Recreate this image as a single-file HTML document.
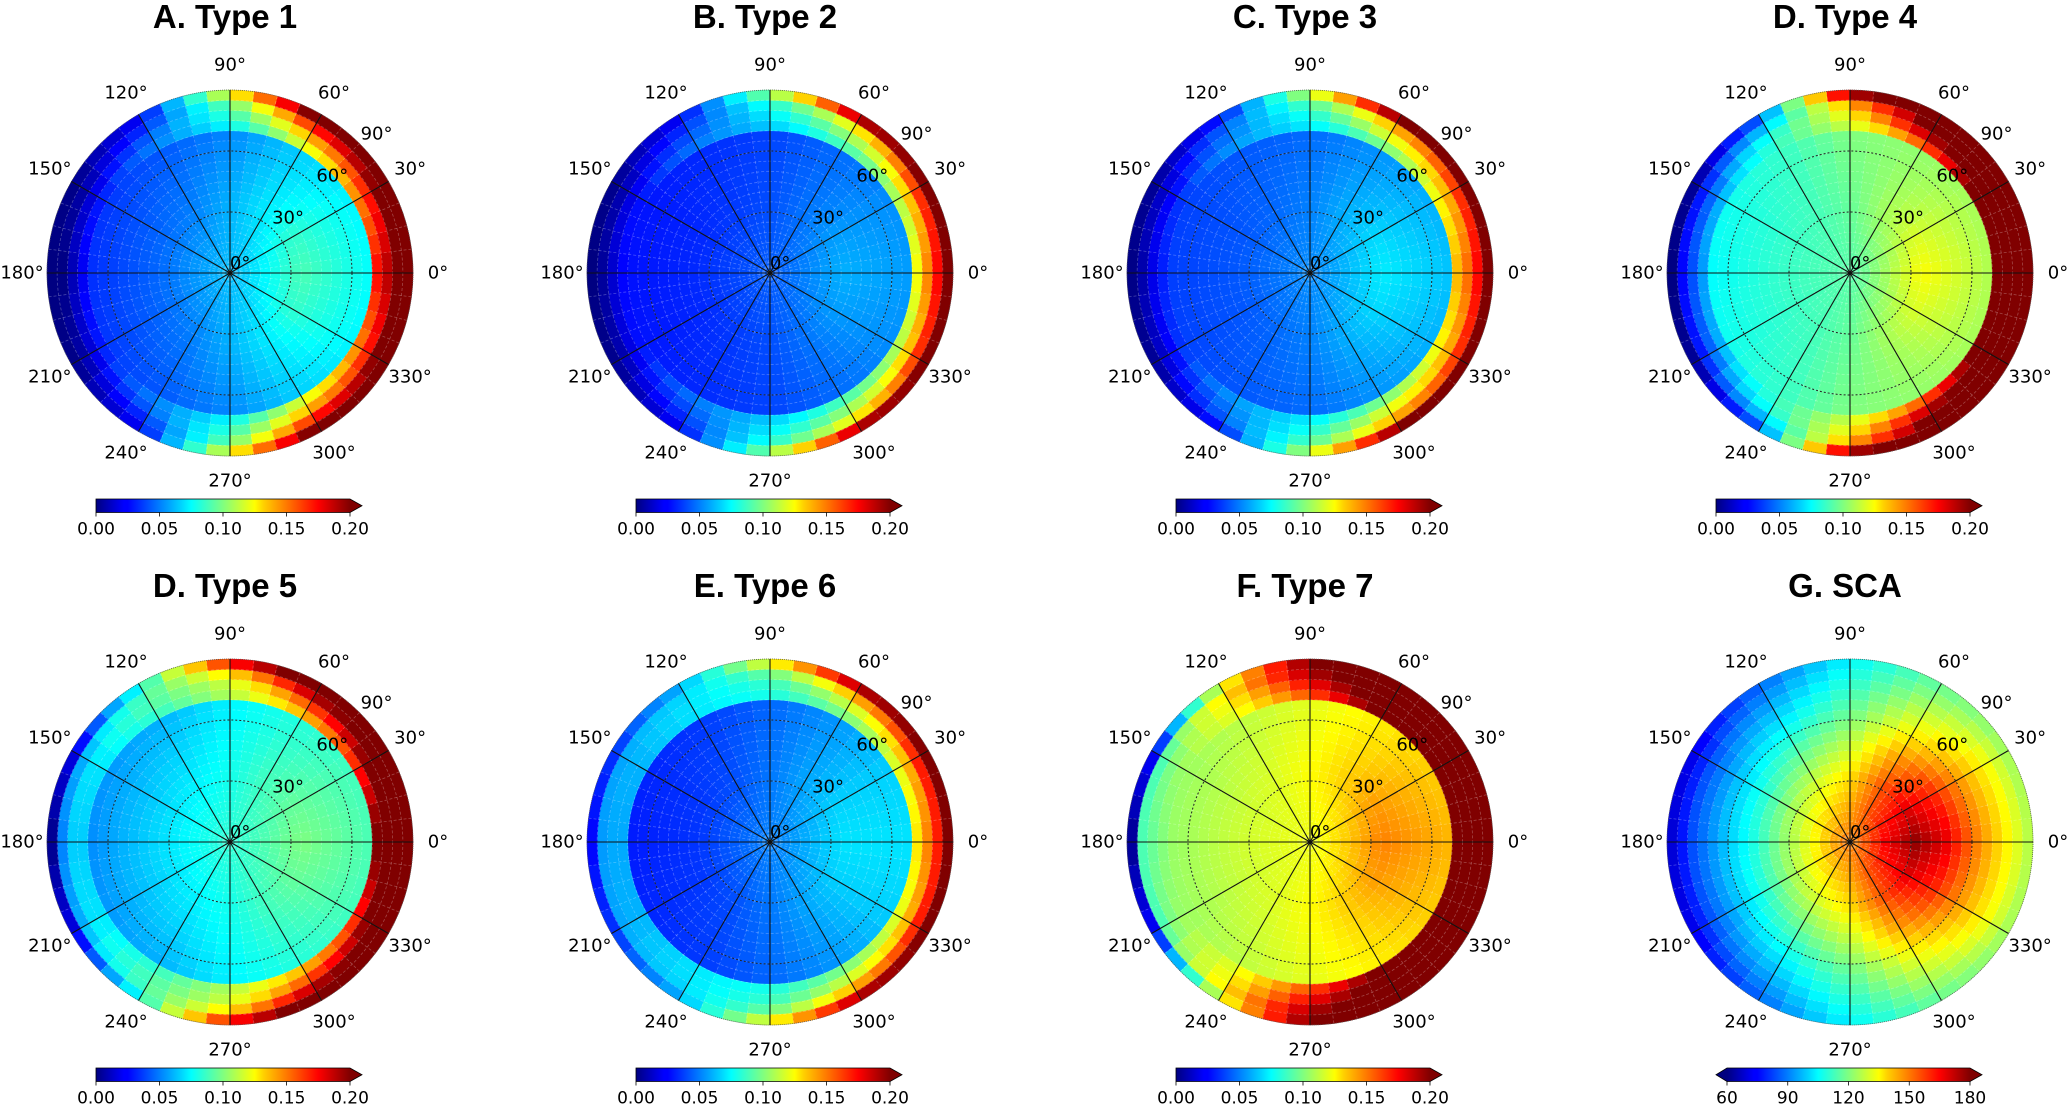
<!DOCTYPE html>
<html><head><meta charset="utf-8">
<style>
html,body{margin:0;padding:0;background:#fff;}
svg{display:block;}
.t{font-family:"Liberation Sans",sans-serif;font-weight:bold;font-size:33px;fill:#000;text-anchor:middle;}
.l{font-family:"DejaVu Sans","Liberation Sans",sans-serif;font-size:18px;fill:#000;text-anchor:middle;dominant-baseline:central;}
.c{font-family:"DejaVu Sans","Liberation Sans",sans-serif;font-size:17px;fill:#000;text-anchor:middle;}
</style></head>
<body>
<svg id="fig" width="2067" height="1104" viewBox="0 0 2067 1104" xmlns="http://www.w3.org/2000/svg">
<defs>
<linearGradient id="jetgrad" x1="0" x2="1" y1="0" y2="0">
<stop offset="0" stop-color="#000080"/><stop offset="0.11" stop-color="#0000ff"/>
<stop offset="0.125" stop-color="#0000ff"/><stop offset="0.34" stop-color="#00d8ff"/>
<stop offset="0.375" stop-color="#00ffff"/><stop offset="0.5" stop-color="#80ff80"/>
<stop offset="0.625" stop-color="#ffff00"/><stop offset="0.66" stop-color="#ffd000"/>
<stop offset="0.875" stop-color="#ff0000"/><stop offset="0.89" stop-color="#f00000"/>
<stop offset="1" stop-color="#800000"/>
</linearGradient>
</defs>
</svg>
<script>
// ---- data ----
const azKeys = [0, 30, 60, 90, 120, 150, 180];
const typeZenKeys = [2.5, 35, 67.5];
const scaZenKeys = [2.5, 17.5, 32.5, 47.5, 62.5, 77.5, 87.5];
const azTickLabels = ['0°','30°','60°','90°','120°','150°','180°','210°','240°','270°','300°','330°'];
const zenTickLabels = ['0°','30°','60°','90°'];
const zenTickValues = [0, 30, 60, 90];
const typeCbTicks = ['0.00','0.05','0.10','0.15','0.20'];
const scaCbTicks = ['60','90','120','150','180'];
const panelTitles = ['A. Type 1','B. Type 2','C. Type 3','D. Type 4','D. Type 5','E. Type 6','F. Type 7','G. SCA'];

const type1 = [
 [0.062,0.090,0.076,0.175,0.190,0.210,0.220],
 [0.062,0.085,0.074,0.150,0.170,0.200,0.220],
 [0.062,0.072,0.066,0.120,0.140,0.170,0.210],
 [0.062,0.060,0.052,0.075,0.085,0.095,0.120],
 [0.062,0.050,0.042,0.050,0.045,0.035,0.025],
 [0.062,0.046,0.036,0.030,0.018,0.008,0.002],
 [0.062,0.045,0.034,0.022,0.010,0.000,0.000]];
const type2 = [
 [0.043,0.060,0.056,0.125,0.150,0.175,0.200],
 [0.043,0.056,0.053,0.110,0.135,0.165,0.200],
 [0.043,0.048,0.046,0.090,0.105,0.125,0.190],
 [0.043,0.040,0.038,0.065,0.072,0.080,0.100],
 [0.043,0.036,0.033,0.048,0.042,0.035,0.025],
 [0.043,0.033,0.029,0.028,0.020,0.010,0.003],
 [0.043,0.033,0.028,0.025,0.015,0.005,0.000]];
const type3 = [
 [0.052,0.072,0.064,0.140,0.155,0.175,0.200],
 [0.052,0.068,0.060,0.125,0.140,0.165,0.200],
 [0.052,0.060,0.054,0.100,0.120,0.140,0.200],
 [0.052,0.050,0.046,0.072,0.080,0.090,0.110],
 [0.052,0.045,0.042,0.055,0.050,0.045,0.030],
 [0.052,0.042,0.038,0.035,0.025,0.015,0.005],
 [0.052,0.042,0.037,0.030,0.020,0.008,0.001]];
const type4 = [
 [0.092,0.125,0.110,0.220,0.220,0.220,0.220],
 [0.092,0.118,0.108,0.210,0.215,0.220,0.220],
 [0.092,0.108,0.104,0.160,0.190,0.210,0.220],
 [0.092,0.095,0.100,0.115,0.125,0.140,0.190],
 [0.092,0.088,0.085,0.085,0.080,0.065,0.045],
 [0.092,0.085,0.078,0.060,0.045,0.030,0.005],
 [0.092,0.085,0.075,0.055,0.040,0.025,0.000]];
const type5 = [
 [0.083,0.100,0.090,0.210,0.220,0.220,0.220],
 [0.083,0.095,0.088,0.170,0.200,0.210,0.220],
 [0.083,0.088,0.082,0.140,0.160,0.190,0.220],
 [0.083,0.078,0.073,0.110,0.115,0.130,0.170],
 [0.083,0.072,0.060,0.085,0.090,0.090,0.080],
 [0.083,0.068,0.055,0.070,0.070,0.060,0.020],
 [0.083,0.068,0.053,0.065,0.065,0.050,0.002]];
const type6 = [
 [0.050,0.070,0.070,0.130,0.150,0.170,0.200],
 [0.050,0.066,0.066,0.120,0.140,0.170,0.200],
 [0.050,0.058,0.055,0.100,0.115,0.140,0.190],
 [0.050,0.048,0.045,0.080,0.085,0.095,0.120],
 [0.050,0.040,0.036,0.070,0.070,0.068,0.060],
 [0.050,0.036,0.032,0.060,0.060,0.058,0.035],
 [0.050,0.035,0.030,0.058,0.058,0.055,0.025]];
const type7 = [
 [0.122,0.150,0.140,0.220,0.220,0.220,0.220],
 [0.122,0.145,0.135,0.220,0.220,0.220,0.220],
 [0.122,0.135,0.128,0.210,0.220,0.220,0.220],
 [0.122,0.125,0.120,0.160,0.175,0.190,0.200],
 [0.122,0.118,0.112,0.120,0.125,0.130,0.120],
 [0.122,0.115,0.106,0.105,0.100,0.090,0.025],
 [0.122,0.115,0.105,0.100,0.095,0.090,0.003]];
const sca = [
 [150,166,178,168,150,136,127],
 [150,162,168,160,146,134,125],
 [150,155,155,147,135,125,118],
 [150,145,138,128,118,110,105],
 [150,140,130,118,106, 95, 88],
 [150,137,124,110, 98, 85, 73],
 [150,135,122,108, 97, 84, 70]];

// ---- layout ----
const colX = [230, 770, 1310, 1850];
const rowY = [273, 842];
const R = 183;
const NS = 'http://www.w3.org/2000/svg';
const svg = document.getElementById('fig');

function el(tag, attrs, parent){
  const e = document.createElementNS(NS, tag);
  for (const k in attrs) e.setAttribute(k, attrs[k]);
  (parent || svg).appendChild(e);
  return e;
}
function jet(t){
  const c = v => Math.max(0, Math.min(1, v));
  const r = c(1.5 - Math.abs(4*t - 3)), g = c(1.5 - Math.abs(4*t - 2)), b = c(1.5 - Math.abs(4*t - 1));
  return 'rgb(' + Math.round(r*255) + ',' + Math.round(g*255) + ',' + Math.round(b*255) + ')';
}
function interp(keys, vals, x){
  if (x <= keys[0]) return vals[0];
  for (let i = 1; i < keys.length; i++){
    if (x <= keys[i]){ const f = (x - keys[i-1])/(keys[i]-keys[i-1]); return vals[i-1] + f*(vals[i]-vals[i-1]); }
  }
  return vals[vals.length-1];
}
function rScale(z){ return z / 90 * R; }
function sector(cx, cy, a0, a1, r0, r1){
  const p = (a, r) => [cx + r*Math.cos(a*Math.PI/180), cy - r*Math.sin(a*Math.PI/180)];
  const [x0,y0] = p(a0, r1), [x1,y1] = p(a1, r1), [x2,y2] = p(a1, r0), [x3,y3] = p(a0, r0);
  let d = 'M'+x0.toFixed(2)+' '+y0.toFixed(2)+' A'+r1+' '+r1+' 0 0 0 '+x1.toFixed(2)+' '+y1.toFixed(2);
  if (r0 > 0) d += ' L'+x2.toFixed(2)+' '+y2.toFixed(2)+' A'+r0+' '+r0+' 0 0 1 '+x3.toFixed(2)+' '+y3.toFixed(2);
  else d += ' L'+cx+' '+cy;
  return d + ' Z';
}
function cellValue(grid, isSca, az, z, ring){
  const a = az > 180 ? 360 - az : az;
  const row = [];
  for (let j = 0; j < grid[0].length; j++){
    row.push(interp(azKeys, grid.map(r => r[j]), a));
  }
  if (isSca) return interp(scaZenKeys, row, z);
  if (ring >= 14) return row[3 + (ring - 14)];
  return interp(typeZenKeys, row.slice(0, 3), z);
}

const grids = [type1, type2, type3, type4, type5, type6, type7, sca];
const nAz = 48, nRing = 18;

grids.forEach((grid, pi) => {
  const isSca = pi === 7;
  const cx = colX[pi % 4], cy = rowY[Math.floor(pi / 4)];
  const g = el('g', {});
  
  
  const title = el('text', {x: cx - 5, y: cy - 245, class: 't'}, g);
  
  
  title.textContent = panelTitles[pi];

  const cells = el('g', {}, g);
  
  
  for (let i = 0; i < nAz; i++){
    const a0 = i * 7.5, a1 = a0 + 7.5, ac = a0 + 3.75;
    for (let k = 0; k < nRing; k++){
      const z0 = k * 5, z1 = z0 + 5, zc = z0 + 2.5;
      const v = cellValue(grid, isSca, ac, zc, k);
      const t = isSca ? (v - 60) / 120 : v / 0.2;
      const col = jet(Math.min(1, Math.max(0, t)));
      const p = el('path', {d: sector(cx, cy, a0, a1, rScale(z0), rScale(z1)), fill: col, stroke: col, 'stroke-width': 0.6}, cells);
      
      
    }
  }
  const fg = el('g', {stroke: '#ffffff', 'stroke-opacity': 0.28, 'stroke-width': 0.8, 'stroke-dasharray': '3 2', fill: 'none'}, g);
  
  
  for (let k = 1; k < nRing; k++) el('circle', {cx: cx, cy: cy, r: rScale(k*5)}, fg);
  for (let i = 0; i < nAz; i++){
    const a = i * 7.5 * Math.PI / 180;
    el('line', {x1: cx, y1: cy, x2: cx + R*Math.cos(a), y2: cy - R*Math.sin(a)}, fg);
  }
  [30, 60].forEach(z => {
    const c = el('circle', {cx: cx, cy: cy, r: rScale(z), fill: 'none', stroke: '#222', 'stroke-width': 1, 'stroke-dasharray': '2 2'}, g);
    
    
  });
  const edge = el('circle', {cx: cx, cy: cy, r: R, fill: 'none', stroke: '#555', 'stroke-width': 0.8, 'stroke-dasharray': '1 1'}, g);
  
  
  for (let s = 0; s < 12; s++){
    const a = s * 30 * Math.PI / 180;
    const ln = el('line', {x1: cx, y1: cy, x2: cx + R*Math.cos(a), y2: cy - R*Math.sin(a), stroke: '#111', 'stroke-width': 1.1}, g);
    
    
    const tx = el('text', {x: cx + 208*Math.cos(a), y: cy - 208*Math.sin(a), class: 'l'}, g);
    
    
    tx.textContent = azTickLabels[s];
  }
  zenTickValues.forEach((z, i) => {
    const d = rScale(z) + (z === 0 ? 14 : 19);
    const a = 43.5 * Math.PI / 180;
    const tx = el('text', {x: cx + d*Math.cos(a), y: cy - d*Math.sin(a), class: 'l'}, g);
    
    
    tx.textContent = zenTickLabels[i];
  });
  const cb = el('g', {}, g);
  
  
  const by = cy + 226, bh = 13.5;
  const bx0 = isSca ? cx - 123 : cx - 134, bx1 = cx + 120;
  const tickX0 = isSca ? cx - 123 : cx - 134;
  const bar = el('rect', {x: bx0, y: by, width: bx1 - bx0, height: bh, fill: 'url(#jetgrad)', stroke: 'none'}, cb);
  
  
  const ar = el('path', {d: 'M'+bx1+' '+by+' L'+(cx+132)+' '+(by+bh/2)+' L'+bx1+' '+(by+bh)+' Z', fill: '#800000'}, cb);
  
  
  let outline = 'M'+bx0+' '+by+' L'+bx1+' '+by+' L'+(cx+132)+' '+(by+bh/2)+' L'+bx1+' '+(by+bh)+' L'+bx0+' '+(by+bh)+' Z';
  if (isSca){
    const al = el('path', {d: 'M'+bx0+' '+by+' L'+(cx-134)+' '+(by+bh/2)+' L'+bx0+' '+(by+bh)+' Z', fill: '#000080'}, cb);
    
    
    outline = 'M'+bx0+' '+by+' L'+bx1+' '+by+' L'+(cx+132)+' '+(by+bh/2)+' L'+bx1+' '+(by+bh)+' L'+bx0+' '+(by+bh)+' L'+(cx-134)+' '+(by+bh/2)+' Z';
  }
  el('path', {d: outline, fill: 'none', stroke: '#000', 'stroke-width': 0.8}, cb);
  const ticks = isSca ? scaCbTicks : typeCbTicks;
  ticks.forEach((lab, i) => {
    const x = tickX0 + (bx1 - tickX0) * i / (ticks.length - 1);
    el('line', {x1: x, y1: by + bh, x2: x, y2: by + bh + 4, stroke: '#000', 'stroke-width': 0.8}, cb);
    const tx = el('text', {x: x, y: by + bh + 22, class: 'c'}, cb);
    
    
    tx.textContent = lab;
  });
});
</script>
</body></html>
